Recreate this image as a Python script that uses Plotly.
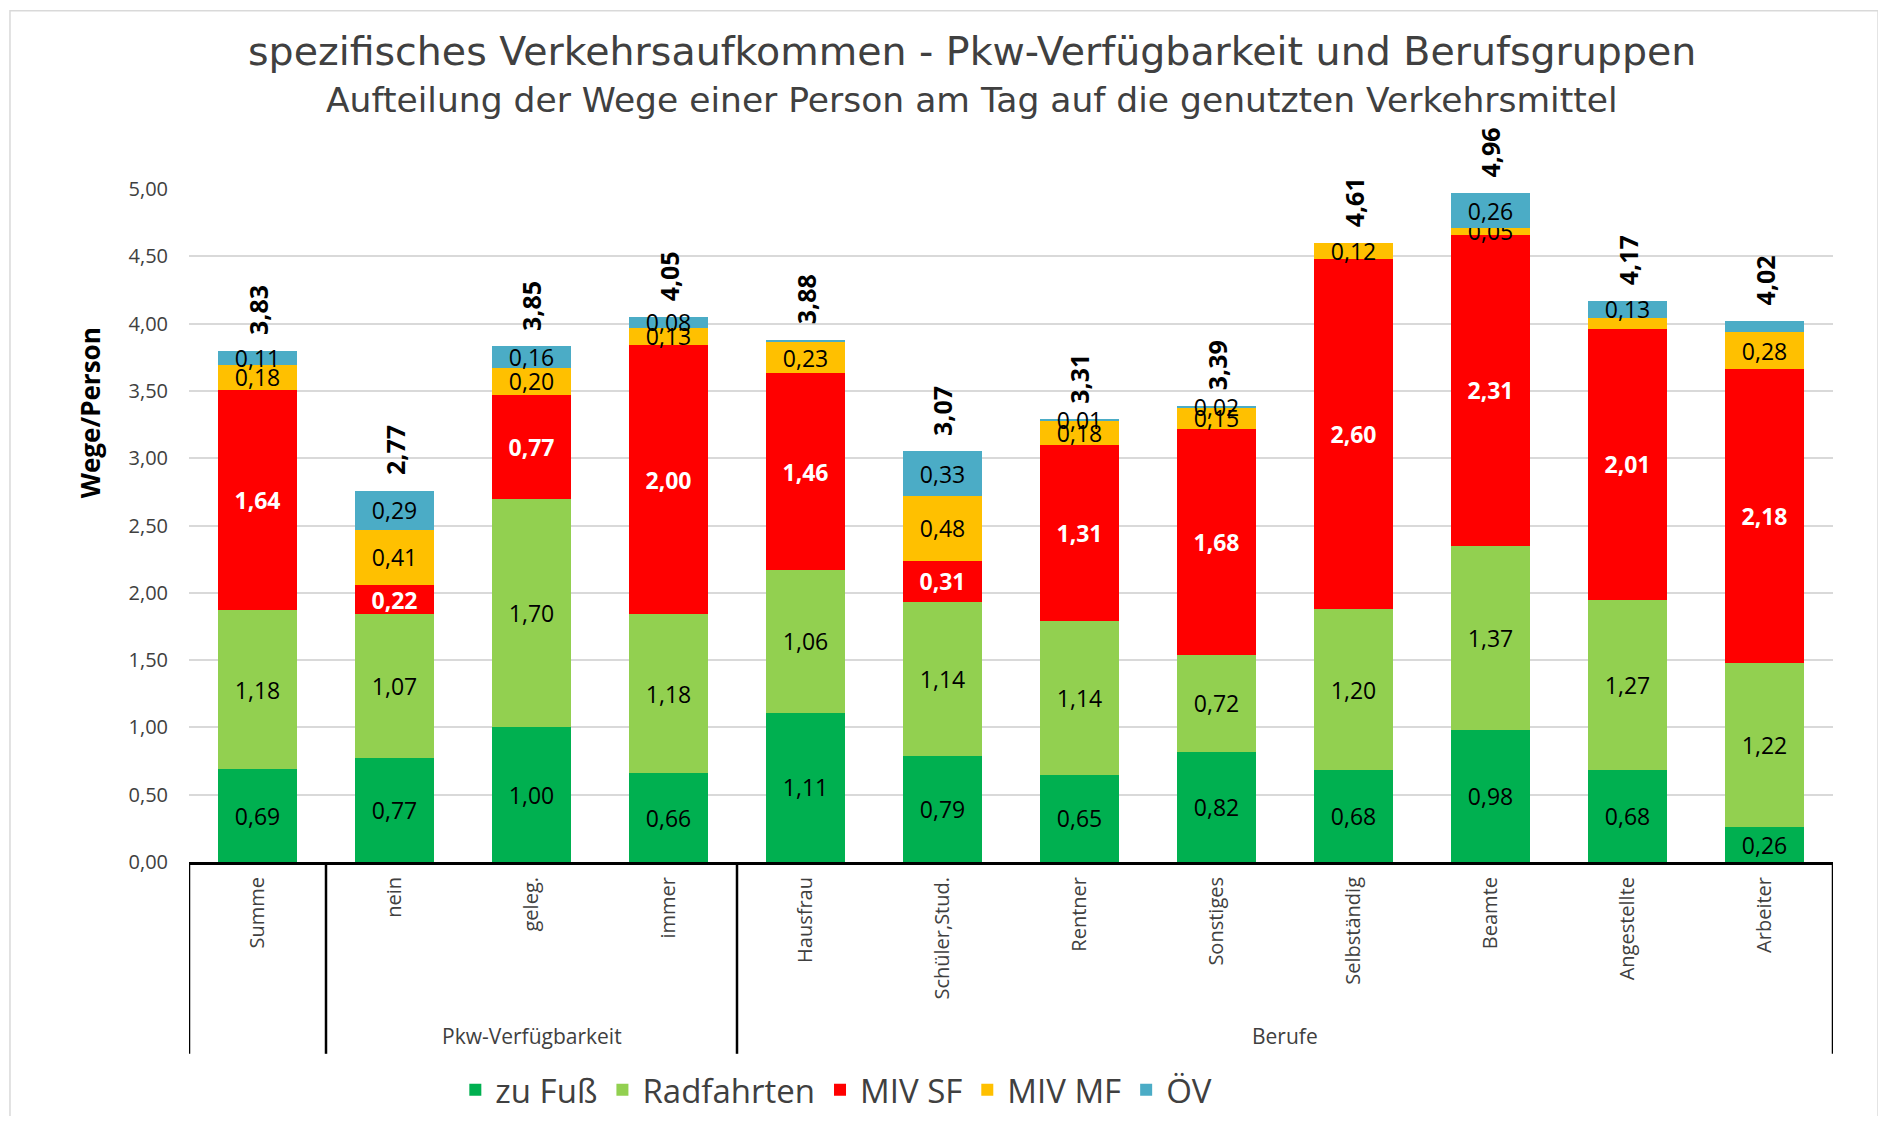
import plotly.graph_objects as go

categories = ["Summe", "nein", "geleg.", "immer", "Hausfrau", "Schüler,Stud.", "Rentner",
              "Sonstiges", "Selbständig", "Beamte", "Angestellte", "Arbeiter"]
groups = ["", "Pkw-Verfügbarkeit", "Berufe"]

zu_fuss    = [0.69, 0.77, 1.00, 0.66, 1.11, 0.79, 0.65, 0.82, 0.68, 0.98, 0.68, 0.26]
radfahrten = [1.18, 1.07, 1.70, 1.18, 1.06, 1.14, 1.14, 0.72, 1.20, 1.37, 1.27, 1.22]
miv_sf     = [1.64, 0.22, 0.77, 2.00, 1.46, 0.31, 1.31, 1.68, 2.60, 2.31, 2.01, 2.18]
miv_mf     = [0.18, 0.41, 0.20, 0.13, 0.23, 0.48, 0.18, 0.15, 0.12, 0.05, 0.08, 0.28]
oev        = [0.11, 0.29, 0.16, 0.08, 0.02, 0.33, 0.01, 0.02, 0.00, 0.26, 0.13, 0.08]
totals     = [3.83, 2.77, 3.85, 4.05, 3.88, 3.07, 3.31, 3.39, 4.61, 4.96, 4.17, 4.02]

# which labels are not shown in the original
hide_mf  = [False]*10 + [True, False]
hide_oev = [False, False, False, False, True, False, False, False, True, False, False, True]

def fmt(v):
    return f"{v:.2f}".replace(".", ",")

LBL = "Open Sans, Noto Sans, sans-serif"
TTL = "DejaVu Sans, Verdana, sans-serif"
series = [
    ("zu Fuß", zu_fuss, "#00B050", None, "#000000", "normal"),
    ("Radfahrten", radfahrten, "#92D050", None, "#000000", "normal"),
    ("MIV SF", miv_sf, "#FF0000", None, "#FFFFFF", "bold"),
    ("MIV MF", miv_mf, "#FFC000", hide_mf, "#000000", "normal"),
    ("ÖV", oev, "#4BACC6", hide_oev, "#000000", "normal"),
]

fig = go.Figure()
for name, vals, col, hide, tcol, wt in series:
    txt = [("" if (hide and hide[i]) else fmt(v)) for i, v in enumerate(vals)]
    fig.add_trace(go.Bar(
        name=name, x=categories, y=vals, marker=dict(color=col, line=dict(width=0)),
        text=txt, textposition="inside", insidetextanchor="middle", textangle=0,
        constraintext="none",
        textfont=dict(family=LBL, size=23, color=tcol, weight=wt),
        hoverinfo="x+y",
    ))

stack_top = [a + b + c + d + e for a, b, c, d, e in zip(zu_fuss, radfahrten, miv_sf, miv_mf, oev)]
annotations = []
for cat, top, tot in zip(categories, stack_top, totals):
    annotations.append(dict(x=cat, y=top, xref="x", yref="y", text=fmt(tot), showarrow=False,
                            textangle=-90, yanchor="bottom", xanchor="center", yshift=13,
                            font=dict(family=LBL, size=25, color="#000000", weight="bold")))

# group labels
annotations.append(dict(x=2, y=-0.283, xref="x", yref="paper", text=groups[1], showarrow=False,
                        font=dict(family=LBL, size=21, color="#404040")))
annotations.append(dict(x=7.5, y=-0.283, xref="x", yref="paper", text=groups[2], showarrow=False,
                        font=dict(family=LBL, size=21, color="#404040")))

# titles
annotations.append(dict(x=0.476, y=1.2056, xref="paper", yref="paper",
                        text="spezifisches Verkehrsaufkommen - Pkw-Verfügbarkeit und Berufsgruppen",
                        showarrow=False, xanchor="center", yanchor="middle",
                        font=dict(family=TTL, size=39.5, color="#404040")))
annotations.append(dict(x=0.476, y=1.1329, xref="paper", yref="paper",
                        text="Aufteilung der Wege einer Person am Tag auf die genutzten Verkehrsmittel",
                        showarrow=False, xanchor="center", yanchor="middle",
                        font=dict(family=TTL, size=34.5, color="#404040")))
# y axis title
annotations.append(dict(x=-0.0602, y=0.667, xref="paper", yref="paper", text="Wege/Person",
                        showarrow=False, textangle=-90, xanchor="center", yanchor="middle",
                        font=dict(family=LBL, size=26, color="#000000", weight="bold")))

shapes = []
for xb in [-0.5, 0.5, 3.5, 11.5]:
    shapes.append(dict(type="line", xref="x", yref="paper", x0=xb, x1=xb, y0=0, y1=-0.285,
                       line=dict(color="#000000", width=2.5)))
# outer chart border
shapes.append(dict(type="rect", xref="paper", yref="paper", x0=-0.1089, x1=1.0274, y0=-0.380, y1=1.265,
                   line=dict(color="#D9D9D9", width=1.5), layer="below"))

fig.update_layout(
    width=1870, height=1108,
    barmode="stack", bargap=0.42,
    paper_bgcolor="white", plot_bgcolor="white",
    margin=dict(l=181, r=45, t=181, b=254, autoexpand=False),
    separators=",.",
    showlegend=True,
    legend=dict(orientation="h", x=0.162, y=-0.3385, xanchor="left", yanchor="middle",
                font=dict(family=LBL, size=33, color="#404040"), traceorder="normal",
                itemclick=False, bgcolor="rgba(0,0,0,0)"),
    annotations=annotations,
    shapes=shapes,
    xaxis=dict(type="category", showline=True, linecolor="#000000", linewidth=3,
               tickangle=-90, ticks="", ticklabelstandoff=4,
               tickfont=dict(family=LBL, size=20, color="#404040"), showgrid=False,
               range=[-0.5, 11.5], fixedrange=True),
    yaxis=dict(range=[0, 5], dtick=0.5, tickformat=".2f", showgrid=True, gridcolor="#D9D9D9",
               gridwidth=1.5, zeroline=False, showline=False, ticks="", ticklabelstandoff=20,
               tickfont=dict(family=LBL, size=20, color="#404040"), fixedrange=True),
)

fig.write_html("out.html")
